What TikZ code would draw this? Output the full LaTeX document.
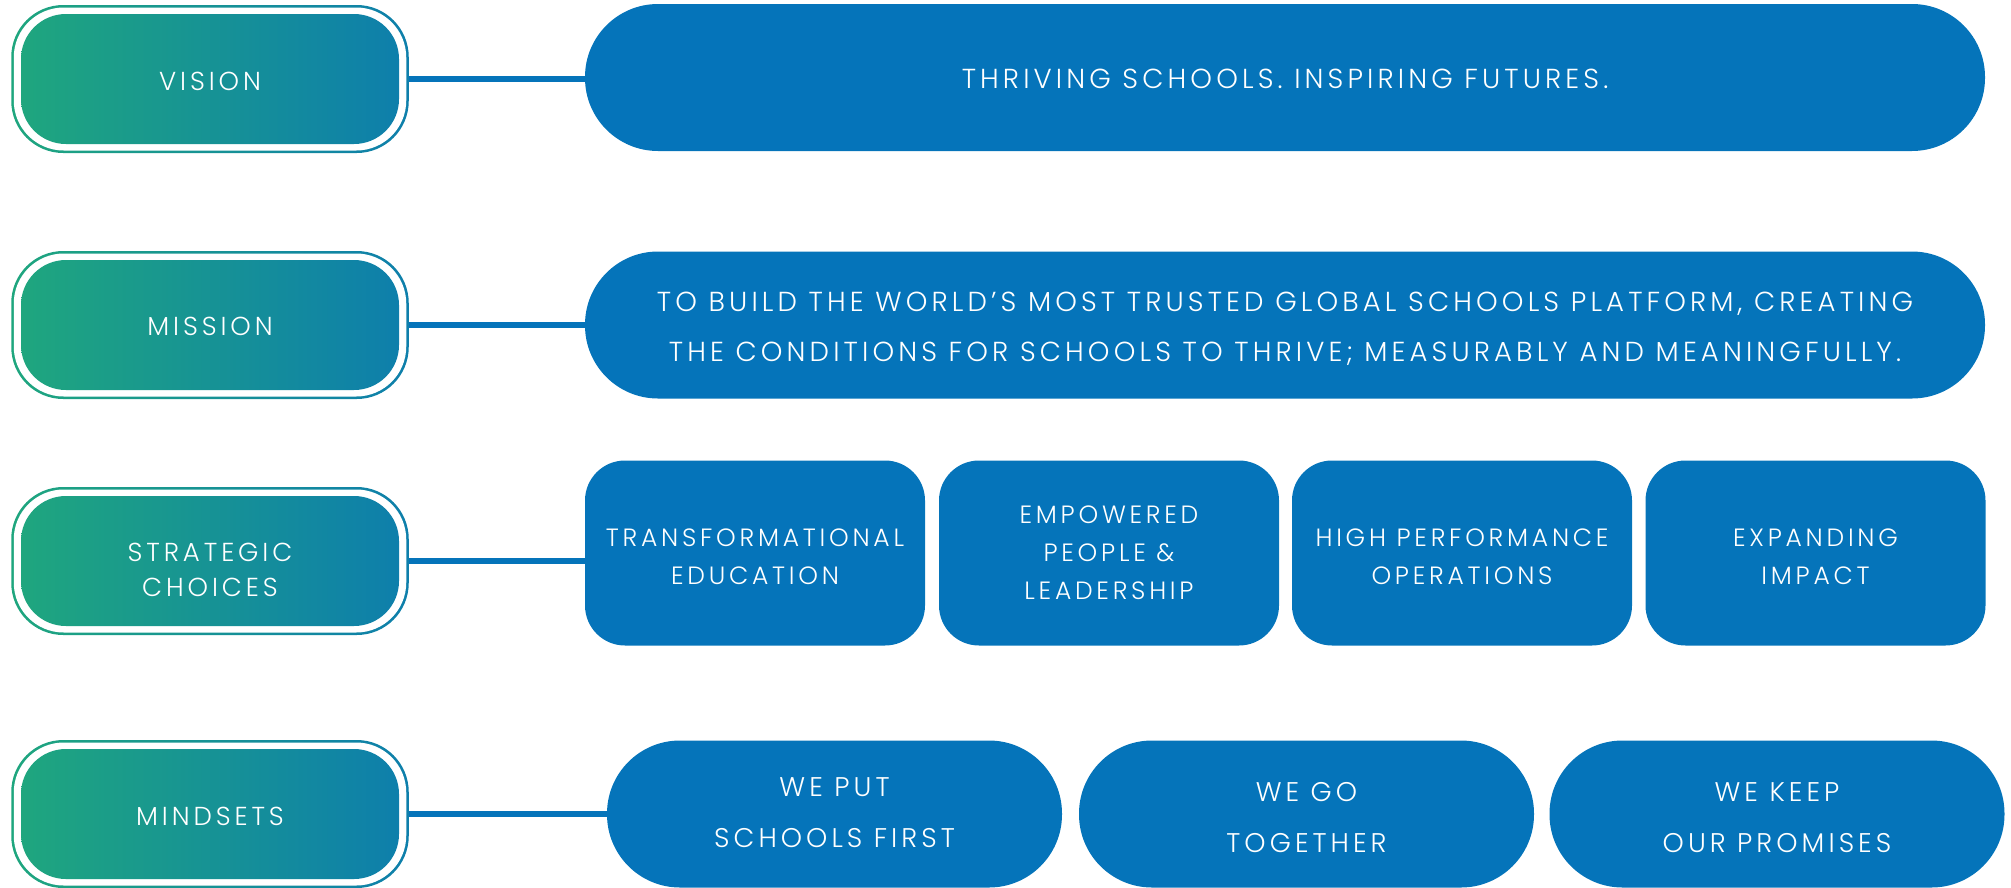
\documentclass[tikz,border=0pt]{standalone}
\usepackage{fontspec}
\newfontfamily\lab{Poppins Light}[LetterSpace=15]
\definecolor{pillblue}{HTML}{0574BA}
\definecolor{gleft}{HTML}{1FA67E}
\definecolor{gright}{HTML}{0E7FAB}
\begin{document}
\begin{tikzpicture}[x=1pt,y=-1pt,
  every node/.style={inner sep=0pt, outer sep=0pt},
  every label/.style={text=white, align=center, inner sep=0pt},
  leftouter/.style={rectangle, rounded corners=52pt, minimum width=397.5pt, minimum height=148pt, left color=gleft, right color=gright},
  leftmid/.style={rectangle, rounded corners=50pt, fill=white, minimum width=392.5pt, minimum height=143pt},
  leftinner/.style={rectangle, rounded corners=45pt, minimum width=378pt, minimum height=130pt, left color=gleft, right color=gright},
  widepill/.style={rectangle, rounded corners=73pt, fill=pillblue, minimum width=1400pt, minimum height=147pt},
  choicebox/.style={rectangle, rounded corners=40pt, fill=pillblue, minimum width=340pt, minimum height=185pt},
  mindpill/.style={rectangle, rounded corners=73pt, fill=pillblue, minimum width=455pt, minimum height=147pt},
  ftA/.style={font=\lab\fontsize{26}{35}\selectfont},
  ftB/.style={font=\lab\fontsize{25}{38}\selectfont},
  ftC/.style={font=\lab\fontsize{27.5}{50}\selectfont},
  ftD/.style={font=\lab\fontsize{27}{51}\selectfont},
  link/.style={draw=pillblue, line width=5.5pt}
]
\useasboundingbox (0,0) rectangle (2011,887);
% left labels
\foreach \n/\y/\s/\t in {v/79/-2/{VISION}, m/325/-1/{MISSION}, s/561/-9/{STRATEGIC\\CHOICES}, d/814/-2/{MINDSETS}}{
  \node[leftouter] (\n o) at (210,\y) {};
  \node[leftmid] (\n w) at (210,\y) {};
  \node[leftinner, label={[ftA, yshift=\s pt]center:\t}] (\n i) at (210,\y) {};
}
% vision / mission
\node[widepill, label={[ftC, yshift=-1pt]center:THRIVING SCHOOLS. INSPIRING FUTURES.}] (vp) at (1285,77.5) {};
\node[widepill, label={[ftC, yshift=-4pt]center:TO BUILD THE WORLD’S MOST TRUSTED GLOBAL SCHOOLS PLATFORM, CREATING\\THE CONDITIONS FOR SCHOOLS TO THRIVE; MEASURABLY AND MEANINGFULLY.}] (mp) at (1285,325) {};
% strategic choices
\node[choicebox, label={[ftB, yshift=-4pt]center:TRANSFORMATIONAL\\EDUCATION}] (c1) at (755,553) {};
\node[choicebox, label={[ftB]center:EMPOWERED\\PEOPLE \&\\LEADERSHIP}] (c2) at (1109,553) {};
\node[choicebox, label={[ftB, yshift=-4pt]center:HIGH PERFORMANCE\\OPERATIONS}] (c3) at (1462,553) {};
\node[choicebox, label={[ftB, yshift=-4pt]center:EXPANDING\\IMPACT}] (c4) at (1815.5,553) {};
% mindsets
\node[mindpill, label={[ftD, yshift=1pt]center:WE PUT\\SCHOOLS FIRST}] (p1) at (834.5,814) {};
\node[mindpill, label={[ftD, yshift=-4pt]center:WE GO\\TOGETHER}] (p2) at (1306.5,814) {};
\node[mindpill, label={[ftD, yshift=-4pt]center:WE KEEP\\OUR PROMISES}] (p3) at (1777,814) {};
% connectors
\draw[link] (vo.east) -- (vp.west |- vo.east);
\draw[link] (mo.east) -- (mp.west |- mo.east);
\draw[link] (so.east) -- (c1.west |- so.east);
\draw[link] (do.east) -- (p1.west |- do.east);
\end{tikzpicture}
\end{document}
